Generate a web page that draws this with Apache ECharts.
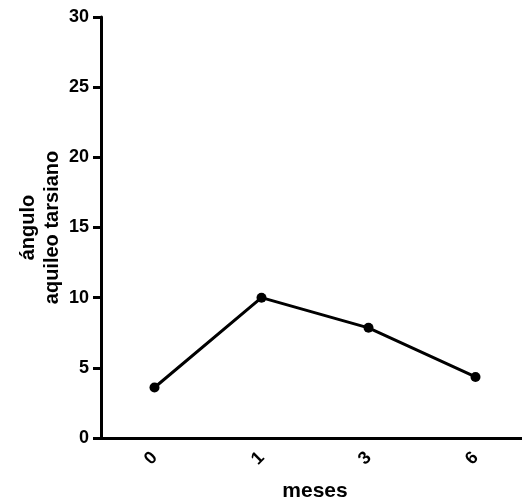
<!DOCTYPE html>
<html>
<head>
<meta charset="utf-8">
<script src="https://cdn.jsdelivr.net/npm/echarts@6/dist/echarts.min.js"></script>
<style>
  html, body { margin: 0; padding: 0; background: #fff; }
  #chart { width: 522px; height: 502px; }
</style>
</head>
<body>
<div id="chart"></div>
<script>
// datos
var meses = ['0', '1', '3', '6'];
var angulo = [3.6, 10.0, 7.85, 4.35];
var yTicks = [0, 5, 10, 15, 20, 25, 30];

var chart = echarts.init(document.getElementById('chart'));
var font = 'Liberation Sans, Arial, sans-serif';

chart.setOption({
    animation: false,
    grid: { left: 101, top: 17, bottom: 64, width: 428, outerBoundsMode: 'none', containLabel: false },
    xAxis: {
        type: 'category',
        data: meses,
        boundaryGap: true,
        name: 'meses',
        nameLocation: 'middle',
        nameGap: 43,
        nameTextStyle: { fontFamily: font, fontWeight: 'bold', fontSize: 21, color: '#000' },
        axisLine: { lineStyle: { color: '#000', width: 3 } },
        axisTick: { alignWithLabel: true, length: 8, lineStyle: { color: '#000', width: 3 } },
        axisLabel: { rotate: 45, margin: 17, fontFamily: font, fontWeight: 'bold', fontSize: 18, color: '#000' },
        splitLine: { show: false }
    },
    yAxis: {
        type: 'value',
        min: yTicks[0],
        max: yTicks[yTicks.length - 1],
        interval: 5,
        name: 'ángulo\naquileo tarsiano',
        nameLocation: 'middle',
        nameGap: 37,
        nameRotate: 90,
        nameMoveOverlap: false,
        nameTextStyle: { fontFamily: font, fontWeight: 'bold', fontSize: 20, color: '#000', lineHeight: 24 },
        axisLine: { show: true, lineStyle: { color: '#000', width: 3 } },
        axisTick: { show: true, length: 8, lineStyle: { color: '#000', width: 3 } },
        axisLabel: { margin: 12, fontFamily: font, fontWeight: 'bold', fontSize: 18, color: '#000' },
        splitLine: { show: false }
    },
    series: [{
        type: 'line',
        data: angulo,
        symbol: 'circle',
        symbolSize: 10,
        lineStyle: { color: '#000', width: 3 },
        itemStyle: { color: '#000' }
    }]
});
</script>
</body>
</html>
